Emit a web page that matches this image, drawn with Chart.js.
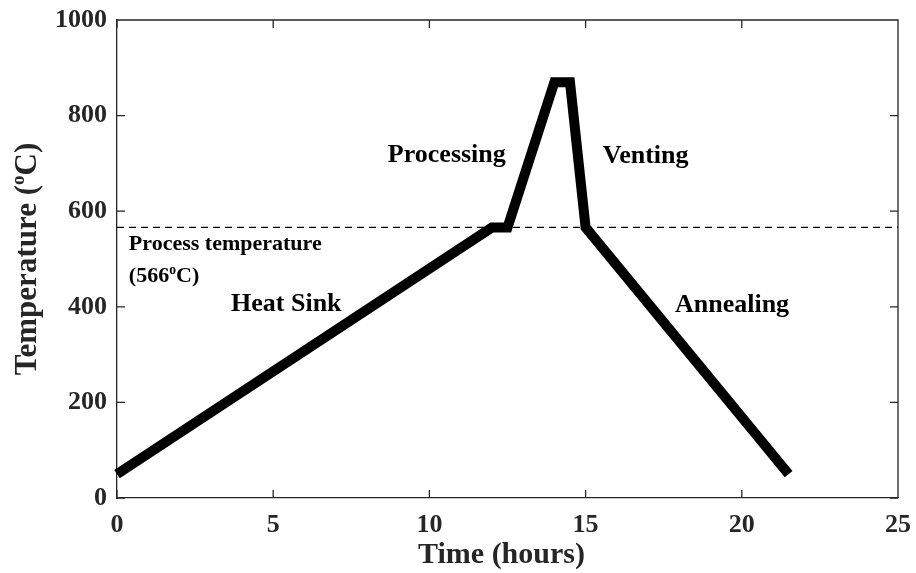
<!DOCTYPE html>
<html>
<head>
<meta charset="utf-8">
<script src="https://cdn.jsdelivr.net/npm/chart.js@4.4.1/dist/chart.umd.min.js"></script>
<style>
  html, body { margin: 0; padding: 0; background: #fff; }
  canvas { display: block; }
</style>
</head>
<body>
<canvas id="chart" width="916" height="573"></canvas>
<script>
/***** DATA *****/
const timeHours = [0, 12, 12.5, 14, 14.5, 15, 21.5];
const tempC     = [50, 566, 566, 870, 870, 566, 50];

const refTime = [0, 25];
const refTemp = [566, 566];   // process temperature

const xTicks = [0, 5, 10, 15, 20, 25];
const yTicks = [0, 200, 400, 600, 800, 1000];

/***** STYLE *****/
const SERIF = "'Liberation Serif', 'Times New Roman', serif";
const AXIS = "#262626";
const font = (size) => `bold ${size}px ${SERIF}`;

// text labels placed in data coordinates (x = hours, y = °C at baseline)
const notes = [
  { parts: [["Processing"]], x: 8.67, y: 703, size: 26 },
  { parts: [["Venting"]],    x: 15.55, y: 701, size: 26 },
  { parts: [["Heat Sink"]],  x: 3.65, y: 391, size: 26 },
  { parts: [["Annealing"]],  x: 17.86, y: 390, size: 26 },
  { parts: [["Process temperature"]], x: 0.38, y: 519, size: 22 },
  { parts: [["(566"], ["o", true], ["C)"]], x: 0.38, y: 452, size: 22 }
];

/***** HELPERS *****/
function partsWidth(ctx, parts, size){
  let w = 0;
  for (const [t, sup] of parts){
    ctx.font = font(sup ? size*0.62 : size);
    w += ctx.measureText(t).width;
  }
  return w;
}

function drawParts(ctx, parts, x, y, size){
  let cx = x;
  for (const [t, sup] of parts){
    ctx.font = font(sup ? size*0.62 : size);
    ctx.fillText(t, cx, sup ? y - size*0.38 : y);
    cx += ctx.measureText(t).width;
  }
}

/***** PLUGIN: box, inward ticks, titles, notes *****/
const decor = {
  id: "decor",
  afterDraw(chart){
    const { ctx, chartArea: a, scales: { x, y } } = chart;
    ctx.save();
    ctx.strokeStyle = AXIS;
    ctx.lineWidth = 1.3;
    ctx.beginPath();
    ctx.moveTo(a.left, a.top); ctx.lineTo(a.right, a.top); ctx.lineTo(a.right, a.bottom);
    const L = 8;
    xTicks.forEach(v => {
      const px = x.getPixelForValue(v);
      ctx.moveTo(px, a.bottom); ctx.lineTo(px, a.bottom - L);
      ctx.moveTo(px, a.top);    ctx.lineTo(px, a.top + L);
    });
    yTicks.forEach(v => {
      const py = y.getPixelForValue(v);
      ctx.moveTo(a.left, py);  ctx.lineTo(a.left + L, py);
      ctx.moveTo(a.right, py); ctx.lineTo(a.right - L, py);
    });
    ctx.stroke();

    // notes
    ctx.fillStyle = "#000";
    ctx.textBaseline = "alphabetic";
    ctx.textAlign = "left";
    for (const n of notes){
      drawParts(ctx, n.parts, x.getPixelForValue(n.x), y.getPixelForValue(n.y), n.size);
    }

    // axis titles
    ctx.fillStyle = AXIS;
    const xt = [["Time (hours)"]];
    const wx = partsWidth(ctx, xt, 30);
    drawParts(ctx, xt, (a.left + a.right)/2 - 6 - wx/2, 563, 30);

    const yt = [["Temperature ("], ["o", true], ["C)"]];
    ctx.translate(36, (a.top + a.bottom)/2);
    ctx.rotate(-Math.PI/2);
    const wy = partsWidth(ctx, yt, 31);
    drawParts(ctx, yt, -wy/2, 0, 31);
    ctx.restore();
  }
};

/***** CHART *****/
const tickFont = { family: SERIF, size: 26, weight: "bold" };

new Chart(document.getElementById("chart"), {
  type: "line",
  data: {
    datasets: [
      {
        data: timeHours.map((t, i) => ({ x: t, y: tempC[i] })),
        borderColor: "#000",
        borderWidth: 10,
        borderJoinStyle: "miter",
        borderCapStyle: "butt",
        pointRadius: 0,
        tension: 0,
        clip: false
      },
      {
        data: refTime.map((t, i) => ({ x: t, y: refTemp[i] })),
        borderColor: "#000",
        borderWidth: 1.3,
        borderDash: [7, 5],
        pointRadius: 0,
        tension: 0
      }
    ]
  },
  options: {
    responsive: false,
    animation: false,
    devicePixelRatio: 1,
    layout: { padding: { top: 20, right: 18, left: 0, bottom: 0 } },
    plugins: { legend: { display: false }, tooltip: { enabled: false } },
    scales: {
      x: {
        type: "linear", min: 0, max: 25,
        afterBuildTicks: s => { s.ticks = xTicks.map(v => ({ value: v })); },
        // fixed height, and no label overhang so the layout padding rules
        afterFit: s => { s.height = 75; s.paddingLeft = 0; s.paddingRight = 0; },
        grid: { display: false, drawTicks: false },
        border: { display: true, color: AXIS, width: 1.3 },
        ticks: { font: tickFont, color: AXIS, padding: 12, maxRotation: 0, callback: v => String(v) }
      },
      y: {
        type: "linear", min: 0, max: 1000,
        afterBuildTicks: s => { s.ticks = yTicks.map(v => ({ value: v })); },
        afterFit: s => { s.width = 117; s.paddingTop = 0; s.paddingBottom = 0; },
        grid: { display: false, drawTicks: false },
        border: { display: true, color: AXIS, width: 1.3 },
        ticks: { font: tickFont, color: AXIS, padding: 10, callback: v => String(v) }
      }
    }
  },
  plugins: [decor]
});
</script>
</body>
</html>
